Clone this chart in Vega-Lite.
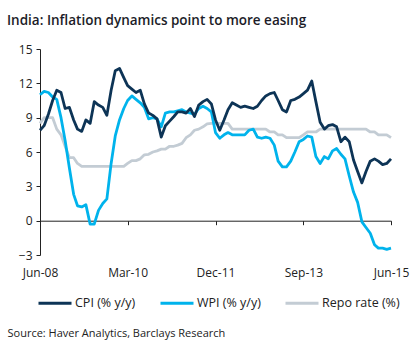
{
  "$schema": "https://vega.github.io/schema/vega-lite/v6.json",
  "width": 351,
  "height": 206,
  "autosize": {"type": "none"},
  "padding": {"left": 40, "top": 49, "right": 29, "bottom": 99},
  "background": "white",
  "config": {
    "font": "Open Sans",
    "view": {"stroke": null},
    "axis": {"labelFont": "Open Sans", "titleFont": "Open Sans", "labelColor": "#222", "domainColor": "#222", "tickColor": "#222", "grid": false},
    "legend": {"labelFont": "Open Sans"}
  },
  "title": {
    "text": "India: Inflation dynamics point to more easing",
    "anchor": "start",
    "frame": "group",
    "dx": -33,
    "offset": 16,
    "fontSize": 13.5,
    "fontWeight": 600,
    "color": "#1c1c28",
    "font": "Open Sans"
  },
  "data": {
    "values": [
      {"date": "2008-06-01T00:00", "cpi": 7.9, "wpi": 11.0, "repo": 8.5},
      {"date": "2008-07-01T00:00", "cpi": 8.3, "wpi": 11.3, "repo": 9.0},
      {"date": "2008-08-01T00:00", "cpi": 9.3, "wpi": 11.2, "repo": 9.0},
      {"date": "2008-09-01T00:00", "cpi": 10.5, "wpi": 10.8, "repo": 9.0},
      {"date": "2008-10-01T00:00", "cpi": 11.4, "wpi": 10.6, "repo": 8.0},
      {"date": "2008-11-01T00:00", "cpi": 11.2, "wpi": 9.0, "repo": 7.5},
      {"date": "2008-12-01T00:00", "cpi": 9.8, "wpi": 7.0, "repo": 6.5},
      {"date": "2009-01-01T00:00", "cpi": 9.9, "wpi": 4.6, "repo": 5.5},
      {"date": "2009-02-01T00:00", "cpi": 8.8, "wpi": 2.3, "repo": 5.5},
      {"date": "2009-03-01T00:00", "cpi": 8.0, "wpi": 1.3, "repo": 5.0},
      {"date": "2009-04-01T00:00", "cpi": 7.8, "wpi": 1.2, "repo": 4.75},
      {"date": "2009-05-01T00:00", "cpi": 8.8, "wpi": 1.4, "repo": 4.75},
      {"date": "2009-06-01T00:00", "cpi": 8.5, "wpi": -0.3, "repo": 4.75},
      {"date": "2009-07-01T00:00", "cpi": 10.4, "wpi": -0.3, "repo": 4.75},
      {"date": "2009-08-01T00:00", "cpi": 10.1, "wpi": 0.9, "repo": 4.75},
      {"date": "2009-09-01T00:00", "cpi": 9.9, "wpi": 1.5, "repo": 4.75},
      {"date": "2009-10-01T00:00", "cpi": 9.2, "wpi": 1.9, "repo": 4.75},
      {"date": "2009-11-01T00:00", "cpi": 11.4, "wpi": 5.0, "repo": 4.75},
      {"date": "2009-12-01T00:00", "cpi": 13.1, "wpi": 7.4, "repo": 4.75},
      {"date": "2010-01-01T00:00", "cpi": 13.3, "wpi": 8.8, "repo": 4.75},
      {"date": "2010-02-01T00:00", "cpi": 12.5, "wpi": 9.8, "repo": 4.75},
      {"date": "2010-03-01T00:00", "cpi": 11.8, "wpi": 10.5, "repo": 5.0},
      {"date": "2010-04-01T00:00", "cpi": 11.5, "wpi": 10.9, "repo": 5.25},
      {"date": "2010-05-01T00:00", "cpi": 11.2, "wpi": 10.6, "repo": 5.25},
      {"date": "2010-06-01T00:00", "cpi": 11.4, "wpi": 10.3, "repo": 5.4},
      {"date": "2010-07-01T00:00", "cpi": 10.2, "wpi": 9.9, "repo": 5.75},
      {"date": "2010-08-01T00:00", "cpi": 9.4, "wpi": 8.9, "repo": 5.8},
      {"date": "2010-09-01T00:00", "cpi": 9.2, "wpi": 9.0, "repo": 6.0},
      {"date": "2010-10-01T00:00", "cpi": 8.9, "wpi": 8.9, "repo": 6.1},
      {"date": "2010-11-01T00:00", "cpi": 7.3, "wpi": 8.2, "repo": 6.25},
      {"date": "2010-12-01T00:00", "cpi": 8.3, "wpi": 9.4, "repo": 6.25},
      {"date": "2011-01-01T00:00", "cpi": 8.7, "wpi": 9.5, "repo": 6.5},
      {"date": "2011-02-01T00:00", "cpi": 9.1, "wpi": 9.5, "repo": 6.5},
      {"date": "2011-03-01T00:00", "cpi": 9.5, "wpi": 9.6, "repo": 6.6},
      {"date": "2011-04-01T00:00", "cpi": 9.5, "wpi": 9.7, "repo": 6.75},
      {"date": "2011-05-01T00:00", "cpi": 9.4, "wpi": 9.5, "repo": 7.25},
      {"date": "2011-06-01T00:00", "cpi": 9.8, "wpi": 9.4, "repo": 7.5},
      {"date": "2011-07-01T00:00", "cpi": 9.1, "wpi": 9.3, "repo": 7.9},
      {"date": "2011-08-01T00:00", "cpi": 10.1, "wpi": 9.8, "repo": 8.0},
      {"date": "2011-09-01T00:00", "cpi": 10.4, "wpi": 10.0, "repo": 8.2},
      {"date": "2011-10-01T00:00", "cpi": 10.6, "wpi": 9.8, "repo": 8.45},
      {"date": "2011-11-01T00:00", "cpi": 10.2, "wpi": 9.5, "repo": 8.5},
      {"date": "2011-12-01T00:00", "cpi": 8.8, "wpi": 7.7, "repo": 8.5},
      {"date": "2012-01-01T00:00", "cpi": 7.9, "wpi": 7.2, "repo": 8.5},
      {"date": "2012-02-01T00:00", "cpi": 8.8, "wpi": 7.5, "repo": 8.5},
      {"date": "2012-03-01T00:00", "cpi": 9.7, "wpi": 7.7, "repo": 8.5},
      {"date": "2012-04-01T00:00", "cpi": 10.3, "wpi": 7.5, "repo": 8.0},
      {"date": "2012-05-01T00:00", "cpi": 10.1, "wpi": 7.5, "repo": 8.0},
      {"date": "2012-06-01T00:00", "cpi": 9.9, "wpi": 7.5, "repo": 8.0},
      {"date": "2012-07-01T00:00", "cpi": 10.0, "wpi": 7.5, "repo": 8.0},
      {"date": "2012-08-01T00:00", "cpi": 9.9, "wpi": 7.9, "repo": 8.0},
      {"date": "2012-09-01T00:00", "cpi": 9.8, "wpi": 8.0, "repo": 8.0},
      {"date": "2012-10-01T00:00", "cpi": 10.0, "wpi": 7.3, "repo": 8.0},
      {"date": "2012-11-01T00:00", "cpi": 10.5, "wpi": 7.2, "repo": 8.0},
      {"date": "2012-12-01T00:00", "cpi": 10.9, "wpi": 7.3, "repo": 8.0},
      {"date": "2013-01-01T00:00", "cpi": 11.1, "wpi": 7.2, "repo": 7.75},
      {"date": "2013-02-01T00:00", "cpi": 11.2, "wpi": 6.6, "repo": 7.75},
      {"date": "2013-03-01T00:00", "cpi": 10.5, "wpi": 5.2, "repo": 7.5},
      {"date": "2013-04-01T00:00", "cpi": 9.7, "wpi": 4.7, "repo": 7.5},
      {"date": "2013-05-01T00:00", "cpi": 9.5, "wpi": 4.7, "repo": 7.25},
      {"date": "2013-06-01T00:00", "cpi": 10.5, "wpi": 5.2, "repo": 7.25},
      {"date": "2013-07-01T00:00", "cpi": 10.6, "wpi": 6.0, "repo": 7.25},
      {"date": "2013-08-01T00:00", "cpi": 10.8, "wpi": 6.9, "repo": 7.25},
      {"date": "2013-09-01T00:00", "cpi": 11.1, "wpi": 7.1, "repo": 7.5},
      {"date": "2013-10-01T00:00", "cpi": 11.4, "wpi": 7.4, "repo": 7.75},
      {"date": "2013-11-01T00:00", "cpi": 12.2, "wpi": 7.3, "repo": 7.75},
      {"date": "2013-12-01T00:00", "cpi": 10.4, "wpi": 5.6, "repo": 7.75},
      {"date": "2014-01-01T00:00", "cpi": 8.6, "wpi": 5.0, "repo": 8.0},
      {"date": "2014-02-01T00:00", "cpi": 8.0, "wpi": 5.6, "repo": 8.0},
      {"date": "2014-03-01T00:00", "cpi": 8.3, "wpi": 5.4, "repo": 8.0},
      {"date": "2014-04-01T00:00", "cpi": 8.4, "wpi": 6.1, "repo": 8.0},
      {"date": "2014-05-01T00:00", "cpi": 8.2, "wpi": 6.3, "repo": 8.0},
      {"date": "2014-06-01T00:00", "cpi": 6.9, "wpi": 5.8, "repo": 8.0},
      {"date": "2014-07-01T00:00", "cpi": 7.3, "wpi": 5.4, "repo": 8.0},
      {"date": "2014-08-01T00:00", "cpi": 6.9, "wpi": 3.9, "repo": 8.0},
      {"date": "2014-09-01T00:00", "cpi": 5.3, "wpi": 2.5, "repo": 8.0},
      {"date": "2014-10-01T00:00", "cpi": 4.3, "wpi": 1.6, "repo": 8.0},
      {"date": "2014-11-01T00:00", "cpi": 3.3, "wpi": -0.1, "repo": 8.0},
      {"date": "2014-12-01T00:00", "cpi": 4.3, "wpi": -0.6, "repo": 8.0},
      {"date": "2015-01-01T00:00", "cpi": 5.2, "wpi": -1.1, "repo": 7.75},
      {"date": "2015-02-01T00:00", "cpi": 5.4, "wpi": -2.1, "repo": 7.75},
      {"date": "2015-03-01T00:00", "cpi": 5.2, "wpi": -2.4, "repo": 7.5},
      {"date": "2015-04-01T00:00", "cpi": 4.9, "wpi": -2.4, "repo": 7.5},
      {"date": "2015-05-01T00:00", "cpi": 5.0, "wpi": -2.5, "repo": 7.5},
      {"date": "2015-06-01T00:00", "cpi": 5.4, "wpi": -2.4, "repo": 7.25}
    ]
  },
  "transform": [
    {"fold": ["repo", "wpi", "cpi"], "as": ["series", "value"]}
  ],
  "mark": {"type": "line", "strokeWidth": 2.8, "strokeJoin": "round", "strokeCap": "butt"},
  "encoding": {
    "x": {
      "field": "date",
      "type": "temporal",
      "scale": {"domain": [{"year": 2008, "month": 6, "date": 1}, {"year": 2015, "month": 6, "date": 1}]},
      "axis": {
        "values": [
          {"year": 2008, "month": 6, "date": 1},
          {"year": 2010, "month": 3, "date": 1},
          {"year": 2011, "month": 12, "date": 1},
          {"year": 2013, "month": 9, "date": 1},
          {"year": 2015, "month": 6, "date": 1}
        ],
        "format": "%b-%y",
        "offset": -34.3,
        "tickSize": 4,
        "labelPadding": 43,
        "labelFontSize": 12,
        "labelFlush": false,
        "labelOverlap": false,
        "domainWidth": 1,
        "title": "Source: Haver Analytics, Barclays Research",
        "titleX": -33,
        "titleY": 113,
        "titleAlign": "left",
        "titleBaseline": "middle",
        "titleFontSize": 11,
        "titleFontWeight": "normal",
        "titleColor": "#222"
      }
    },
    "y": {
      "field": "value",
      "type": "quantitative",
      "scale": {"domain": [-3, 15], "nice": false, "zero": false},
      "axis": {
        "values": [-3, 0, 3, 6, 9, 12, 15],
        "tickSize": 4,
        "labelPadding": 4,
        "labelFontSize": 12,
        "title": null,
        "domainWidth": 1
      }
    },
    "color": {
      "field": "series",
      "type": "nominal",
      "scale": {"domain": ["cpi", "wpi", "repo"], "range": ["#0d3456", "#00b3ec", "#c3ccd4"]},
      "legend": {
        "title": null,
        "orient": "none",
        "direction": "horizontal",
        "legendX": -3,
        "legendY": 236,
        "symbolType": "stroke",
        "symbolSize": 1089,
        "symbolStrokeWidth": 3,
        "labelFontSize": 12.5,
        "labelColor": "#222",
        "labelOffset": 2,
        "columnPadding": 18,
        "labelExpr": "datum.value == 'cpi' ? 'CPI (% y/y)' : datum.value == 'wpi' ? 'WPI (% y/y)' : 'Repo rate (%)'"
      }
    }
  }
}
